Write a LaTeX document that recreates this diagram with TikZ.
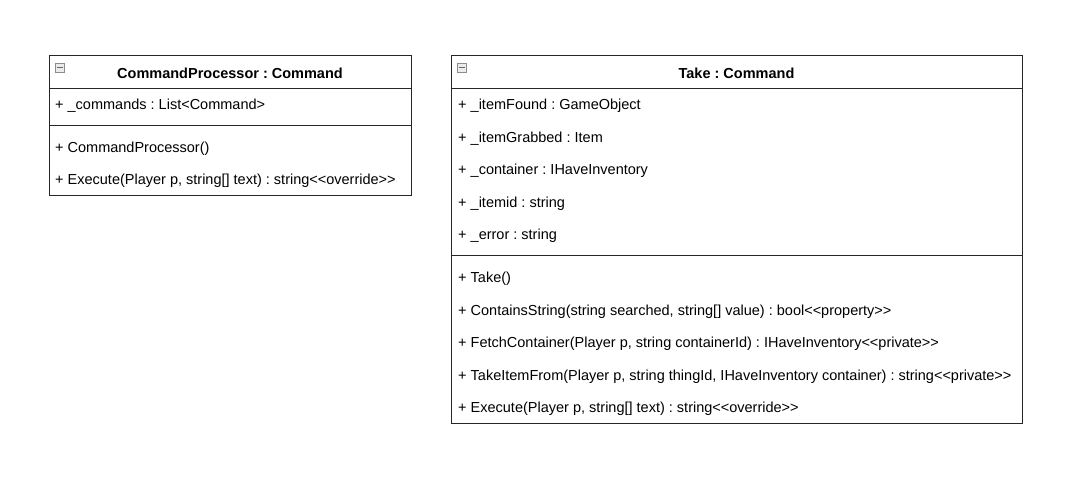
\documentclass[tikz,border=0pt]{standalone}
\usepackage{fontspec}
\setmainfont{Liberation Sans}
\frenchspacing
\begin{document}
\begin{tikzpicture}[x=1pt,y=-1pt,
  box/.style={draw=black!85,line width=1pt},
  sep/.style={draw=black!85,line width=1pt},
  member/.style={anchor=west,inner sep=0pt,font=\fontsize{14.5}{17}\selectfont},
  title/.style={inner sep=0pt,font=\fontsize{14.5}{17}\selectfont\bfseries},
  icon/.style={draw=black!45,fill=black!8,line width=0.6pt,minimum size=9pt,inner sep=0pt}]
\useasboundingbox (0,0) rectangle (1071,478);
% Box 1
\draw[box] (49,56) rectangle (411,196);
\draw[sep] (49,89) -- (411,89);
\draw[sep] (49,126) -- (411,126);
\node[icon] (i1) at (60,67.5) {};
\draw[black!60,line width=0.8pt] (57,67.5) -- (63,67.5);
\node[title] (t1) at (230,73.5) {CommandProcessor : Command};
\node[member] (a1) at (55,105.5) {+ \_commands : List<Command>};
\node[member] (m1) at (55,148.5) {+ CommandProcessor()};
\node[member] (m2) at (55,181) {+ Execute(Player p, string[] text) : string<{}<override>{}>};
% Box 2
\draw[box] (451,56) rectangle (1022,423);
\draw[sep] (451,89) -- (1022,89);
\draw[sep] (451,256) -- (1022,256);
\node[icon] (i2) at (462,67.5) {};
\draw[black!60,line width=0.8pt] (459,67.5) -- (465,67.5);
\node[title] (t2) at (736.5,73.5) {Take : Command};
\node[member] (b1) at (458,106) {+ \_itemFound : GameObject};
\node[member] (b2) at (458,138.5) {+ \_itemGrabbed : Item};
\node[member] (b3) at (458,171) {+ \_container : IHaveInventory};
\node[member] (b4) at (458,203.5) {+ \_itemid : string};
\node[member] (b5) at (458,236) {+ \_error : string};
\node[member] (n1) at (458,279) {+ Take()};
\node[member] (n2) at (458,311.5) {+ ContainsString(string searched, string[] value) : bool<{}<property>{}>};
\node[member] (n3) at (458,344) {+ FetchContainer(Player p, string containerId) : IHaveInventory<{}<private>{}>};
\node[member] (n4) at (458,376.5) {+ TakeItemFrom(Player p, string thingId, IHaveInventory container) : string<{}<private>{}>};
\node[member] (n5) at (458,409) {+ Execute(Player p, string[] text) : string<{}<override>{}>};
\end{tikzpicture}
\end{document}
